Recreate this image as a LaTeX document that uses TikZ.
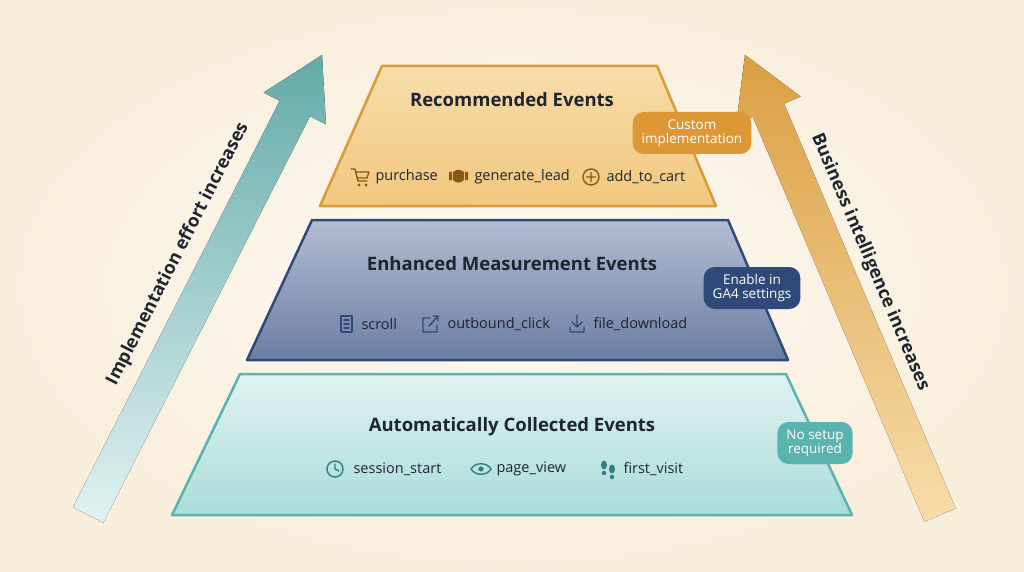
\documentclass[tikz,border=0pt]{standalone}
\usepackage{fontspec}
\setmainfont{Open Sans}
\usetikzlibrary{calc}
\definecolor{bg}{HTML}{F8EEDC}
\definecolor{bgc}{HTML}{FDFAF3}
\definecolor{orB}{HTML}{D99A3A}
\definecolor{orT}{HTML}{F7DDAA}
\definecolor{orL}{HTML}{F1C77E}
\definecolor{orI}{HTML}{8A5A14}
\definecolor{nvB}{HTML}{2F4A78}
\definecolor{nvT}{HTML}{B3BDD3}
\definecolor{nvL}{HTML}{6B7DA3}
\definecolor{tlB}{HTML}{5BB3B0}
\definecolor{tlT}{HTML}{E0F2F1}
\definecolor{tlL}{HTML}{A9DCD9}
\definecolor{tlI}{HTML}{2E7F7D}
\definecolor{txt}{HTML}{1F2530}
\begin{document}
\begin{tikzpicture}[x=1pt,y=-1pt,
  title/.style={font=\fontsize{18.5}{20}\selectfont\bfseries, text=txt},
  lab/.style={font=\fontsize{14.5}{16}\selectfont, text=txt, anchor=west},
  badge/.style={rounded corners=11pt, text=white, font=\fontsize{13.5}{15}\selectfont, align=center, inner xsep=9pt, inner ysep=6pt, minimum height=42pt},
  ico/.style={line width=1.4pt, line cap=round, line join=round},
  tier/.style={line width=2.5pt, line join=round}]
\path[inner color=bgc, outer color=bg] (0,0) rectangle (1024,572);
\useasboundingbox (0,0) rectangle (1024,572);
% arrows
\fill[top color=tlB!90!black!90, bottom color=tlT] (103.2,522.7) -- (310.0,116.2) -- (326.0,124.4) -- (322,55) -- (263.6,92.6) -- (279.7,100.8) -- (72.9,507.3) -- cycle;
\fill[top color=orB!95, bottom color=orT] (955.6,508.4) -- (784,103.6) -- (800.6,96.6) -- (745,55) -- (736.2,123.9) -- (752.8,116.8) -- (924.4,521.6) -- cycle;
\node[rotate=63, font=\fontsize{18}{20}\selectfont\bfseries, text=txt] (lt) at (178,254) {Implementation effort increases};
\node[rotate=-67, font=\fontsize{18}{20}\selectfont\bfseries, text=txt] (rt) at (870,262) {Business intelligence increases};
% tiers
\draw[tier, draw=tlB, top color=tlT, bottom color=tlL] (240,374) -- (786,374) -- (852,515) -- (172,515) -- cycle;
\draw[tier, draw=nvB, top color=nvT, bottom color=nvL] (312,220) -- (728,220) -- (788,360) -- (247,360) -- cycle;
\draw[tier, draw=orB, top color=orT, bottom color=orL] (382,66) -- (657,66) -- (716,206) -- (320,206) -- cycle;
\node[title] (t1) at (512,100) {Recommended Events};
\node[title] (t2) at (512,264) {Enhanced Measurement Events};
\node[title] (t3) at (512,427) {Automatically Collected Events};
% labels row 1
\node[lab] (l11) at (372,177) {purchase};
\node[lab] (l12) at (471,177) {generate\_lead};
\node[lab] (l13) at (603,177) {add\_to\_cart};
\draw[ico, orI] (351,169) -- (355,169) -- (358,181) -- (367,181) (356,172) -- (369,172) -- (367,178) -- (357,178);
\fill[orI] (359,185) circle (1.6) (366,185) circle (1.6);
\fill[orI] (449,172) rectangle (452,180) (465,172) rectangle (468,180);
\fill[orI] (453,172) .. controls (458,168) and (461,170) .. (464,172) -- (464,180) .. controls (460,184) and (456,183) .. (453,180) -- cycle;
\draw[ico, orI] (591,177) circle (8) (591,172.5) -- (591,181.5) (586.5,177) -- (595.5,177);
% labels row 2
\node[lab] (l21) at (358,324) {scroll};
\node[lab] (l22) at (444,324) {outbound\_click};
\node[lab] (l23) at (590,324) {file\_download};
\draw[ico, nvB] (341,316) rectangle (352,332) (344,320) -- (349,320) (344,324) -- (349,324) (344,328) -- (349,328);
\draw[ico, nvB] (430,318) -- (423,318) -- (423,332) -- (437,332) -- (437,325) (429,326) -- (438,316) (433,316) -- (438,316) -- (438,321);
\draw[ico, nvB] (577,315) -- (577,327) (572,322) -- (577,327) -- (582,322) (570,327) -- (570,332) -- (584,332) -- (584,327);
% labels row 3
\node[lab] (l31) at (350,469) {session\_start};
\node[lab] (l32) at (493,469) {page\_view};
\node[lab] (l33) at (620,469) {first\_visit};
\draw[ico, tlI] (335,469) circle (8) (335,464) -- (335,469) -- (339,471);
\draw[ico, tlI] (471,469) .. controls (475,462) and (487,462) .. (491,469) .. controls (487,476) and (475,476) .. (471,469);
\fill[tlI] (481,469) circle (2.6);
\fill[tlI] (604,465) ellipse (3 and 4.5) (604,473) circle (2.2) (612,469) ellipse (3 and 4.5) (612,477) circle (2.2);
% badges
\node[badge, fill=orB!90!orange] (b1) at (692,133) {Custom\\[-1pt]implementation};
\node[badge, fill=nvB] (b2) at (752,288) {Enable in\\[-1pt]GA4 settings};
\node[badge, fill=tlB] (b3) at (815,443) {No setup\\[-1pt]required};
\end{tikzpicture}
\end{document}
